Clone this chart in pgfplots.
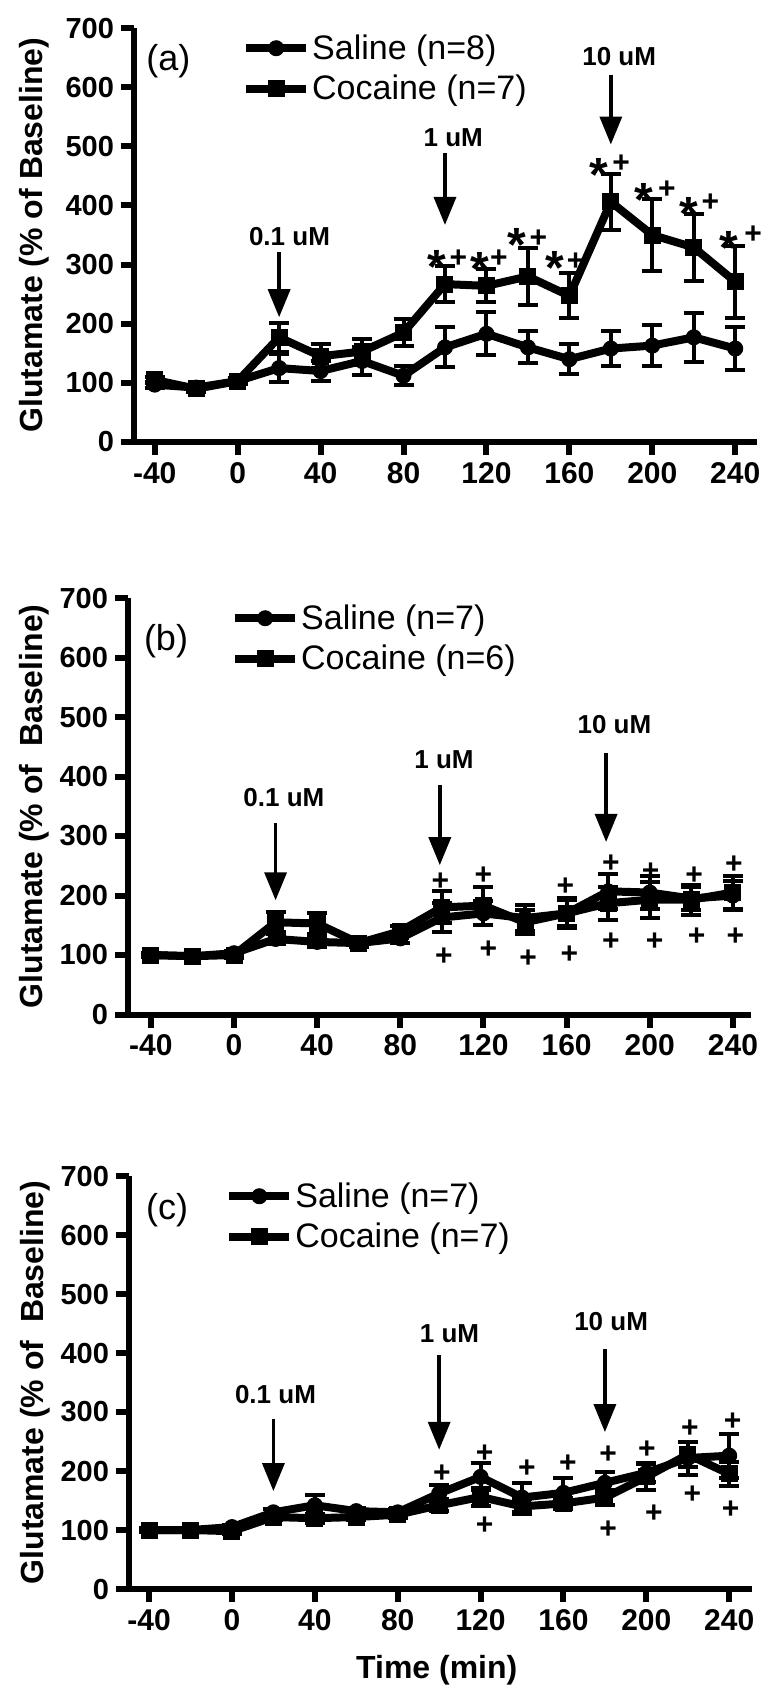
\documentclass[border=0pt]{standalone}
\usepackage{fontspec}
\setmainfont{Liberation Sans}
\usepackage{pgfplots}
\pgfplotsset{compat=1.18}
\usepackage{pgfplotstable}
\usetikzlibrary{arrows.meta}

% panel (a)
\pgfplotstableread{
t y e
-40 97 5
-20 92 5
0 103 5
20 125 24
40 120 17
60 137 23
80 112 16
100 160 34
120 183 36
140 160 27
160 140 25
180 158 30
200 163 35
220 177 41
240 158 37
}\salA
\pgfplotstableread{
t y e
-40 105 5
-20 90 6
0 103 5
20 177 24
40 145 20
60 153 22
80 185 23
100 267 30
120 264 28
140 280 48
160 247 38
180 406 48
200 350 61
220 329 57
240 271 61
}\cocA
% panel (b)
\pgfplotstableread{
t y e
-40 100 3
-20 98 3
0 103 4
20 127 8
40 122 8
60 120 6
80 128 8
100 163 25
120 170 20
140 162 22
160 170 22
180 207 30
200 205 28
220 195 20
240 200 25
}\salB
\pgfplotstableread{
t y e
-40 100 3
-20 98 3
0 100 5
20 155 17
40 153 18
60 120 6
80 140 8
100 180 27
120 183 32
140 155 20
160 170 25
180 187 28
200 193 30
220 193 25
240 205 27
}\cocB
% panel (c)
\pgfplotstableread{
t y e
-40 100 3
-20 100 3
0 105 4
20 130 6
40 142 18
60 132 5
80 130 5
100 162 15
120 190 23
140 155 25
160 163 25
180 180 18
200 197 16
220 222 28
240 226 37
}\salC
\pgfplotstableread{
t y e
-40 100 3
-20 100 3
0 98 4
20 122 5
40 120 8
60 122 5
80 126 5
100 142 10
120 156 16
140 140 12
160 145 10
180 155 12
200 190 22
220 228 22
240 195 20
}\cocC

\newcommand\labfont{\fontsize{16}{16}\selectfont\bfseries}
\pgfplotsset{
  panel/.style={
    scale only axis, width=311.5pt,
    ymin=0, ymax=700,
    axis x line=bottom, axis y line=left,
    axis line style={line width=3pt, -},
    xtick={-40,0,...,240}, ytick={0,100,...,700},
    tick align=outside, major tick length=6.5pt,
    tick style={line width=3pt, black},
    /pgf/number format/assume math mode=true,
    yticklabel style={font=\fontsize{14.5}{14.5}\selectfont\bfseries},
    xticklabel style={font=\fontsize{15}{15}\selectfont\bfseries},
    clip=false,
    legend cell align=left,
    legend style={draw=none, fill=none, inner sep=0pt, anchor=north west,
      font=\fontsize{17}{17}\selectfont, nodes={inner sep=1pt}, row sep=4.5pt},
    legend image code/.code={\draw[mark repeat=2,mark phase=2,#1]
      plot coordinates {(0pt,0pt) (15pt,0pt) (30pt,0pt)};},
  },
  sal/.style={black, line width=4pt, mark=*, mark size=3.75pt,
    mark options={solid, fill=black, line width=0.5pt},
    error bars/.cd, y dir=both, y explicit,
    error bar style={line width=2pt},
    error mark options={rotate=90, line width=2pt, mark size=5pt, black}},
  coc/.style={black, line width=4pt, mark=square*, mark size=4pt,
    mark options={solid, fill=black, line width=0.5pt},
    error bars/.cd, y dir=both, y explicit,
    error bar style={line width=2pt},
    error mark options={rotate=90, line width=2pt, mark size=5pt, black}},
}
\tikzset{
  arr/.style={line width=1.75pt, -{Triangle[length=14pt,width=11pt]}},
  dose/.style={font=\fontsize{13}{13}\selectfont\bfseries},
  starnode/.style={font=\fontsize{24}{24}\selectfont\bfseries, anchor=base, inner sep=0pt},
  plusnode/.style={font=\fontsize{15}{15}\selectfont\bfseries, anchor=base, inner sep=0pt},
  tag/.style={font=\fontsize{18}{18}\selectfont},
}
\newcommand\ST[2]{\node[starnode] at (axis cs:#1,#2) {\raisebox{-0.58em}{*}};}
\newcommand\PL[2]{\node[plusnode] at (axis cs:#1,#2) {\raisebox{-0.35em}{+}};}

\begin{document}
\begin{tikzpicture}
\path[use as bounding box] (0,0) rectangle (387pt,-848pt);

% ---- (a)
\begin{axis}[panel, at={(67pt,-221pt)}, anchor=south west, height=207pt,
  xmin=-50, xmax=250.5,
  ylabel={Glutamate (\% of Baseline)},
  every axis y label/.style={at={(axis description cs:-0.16,0.5)}, rotate=90, anchor=center, font=\labfont},
  legend style={at={(axis description cs:0.173,1)}, yshift=-2pt}]
\addplot[sal] table[x=t, y=y, y error=e] {\salA};
\addplot[coc] table[x=t, y=y, y error=e] {\cocA};
\legend{Saline (n=8), Cocaine (n=7)}
\node[tag] at (rel axis cs:0.055,0.92) {(a)};
\draw[arr] (axis cs:20,321) -- (axis cs:20,211);
\node[dose] at (axis cs:25,347) {0.1 uM};
\draw[arr] (axis cs:100,489) -- (axis cs:100,367);
\node[dose] at (axis cs:104,514) {1 uM};
\draw[arr] (axis cs:180,621) -- (axis cs:180,503);
\node[dose] at (axis cs:184,651) {10 uM};
\ST{96}{315}  \PL{106.5}{312}
\ST{117}{311} \PL{126}{312}
\ST{134.6}{352} \PL{145}{346}
\ST{153}{314} \PL{163}{308}
\ST{174}{471} \PL{185}{473}
\ST{196}{429} \PL{207}{429}
\ST{217.5}{405} \PL{228}{407}
\ST{237}{347} \PL{248.6}{354}
\end{axis}

% ---- (b)
\begin{axis}[panel, at={(64pt,-507.25pt)}, anchor=south west, height=208.25pt,
  xmin=-51, xmax=248.7,
  ylabel={Glutamate (\% of\ \ Baseline)},
  every axis y label/.style={at={(axis description cs:-0.151,0.5)}, rotate=90, anchor=center, font=\labfont},
  legend style={at={(axis description cs:0.165,1)}, yshift=-2pt}]
\addplot[sal] table[x=t, y=y, y error=e] {\salB};
\addplot[coc] table[x=t, y=y, y error=e] {\cocB};
\legend{Saline (n=7), Cocaine (n=6)}
\node[tag] at (rel axis cs:0.061,0.897) {(b)};
\draw[arr] (axis cs:20,322) -- (axis cs:20,192);
\node[dose] at (axis cs:24,364) {0.1 uM};
\draw[arr] (axis cs:99,386) -- (axis cs:99,251);
\node[dose] at (axis cs:101,428) {1 uM};
\draw[arr] (axis cs:179,439) -- (axis cs:179,290);
\node[dose] at (axis cs:183,487) {10 uM};
\PL{99.3}{226}  \PL{101}{100}
\PL{120}{237}   \PL{122.4}{111}
\PL{141.5}{97}
\PL{159.4}{218} \PL{161.3}{103}
\PL{181.3}{257} \PL{181.3}{125}
\PL{200.4}{243} \PL{202.3}{125}
\PL{221.4}{237} \PL{222.6}{134}
\PL{240.5}{254} \PL{241.2}{134}
\end{axis}

% ---- (c)
\begin{axis}[panel, at={(64.5pt,-794.5pt)}, anchor=south west, height=206.5pt,
  xmin=-49.7, xmax=251,
  ylabel={Glutamate (\% of\ \ Baseline)},
  every axis y label/.style={at={(axis description cs:-0.151,0.5)}, rotate=90, anchor=center, font=\labfont},
  xlabel={Time (min)},
  every axis x label/.style={at={(axis description cs:0.494,-0.196)}, anchor=center, font=\labfont},
  legend style={at={(axis description cs:0.154,1)}, yshift=-2pt}]
\addplot[sal] table[x=t, y=y, y error=e] {\salC};
\addplot[coc] table[x=t, y=y, y error=e] {\cocC};
\legend{Saline (n=7), Cocaine (n=7)}
\node[tag] at (rel axis cs:0.061,0.918) {(c)};
\draw[arr] (axis cs:20,289) -- (axis cs:20,166);
\node[dose] at (axis cs:21,329) {0.1 uM};
\draw[arr] (axis cs:100,396) -- (axis cs:100,236);
\node[dose] at (axis cs:105,432) {1 uM};
\draw[arr] (axis cs:180,406) -- (axis cs:180,266);
\node[dose] at (axis cs:183,454) {10 uM};
\PL{101.3}{199}
\PL{122}{233}   \PL{122}{110}
\PL{142.3}{207}
\PL{162.1}{216}
\PL{181.6}{231} \PL{181.6}{104}
\PL{200.2}{239} \PL{203.6}{130}
\PL{221}{275}   \PL{222.2}{162}
\PL{241.7}{286} \PL{240.7}{138}
\end{axis}
\end{tikzpicture}
\end{document}
